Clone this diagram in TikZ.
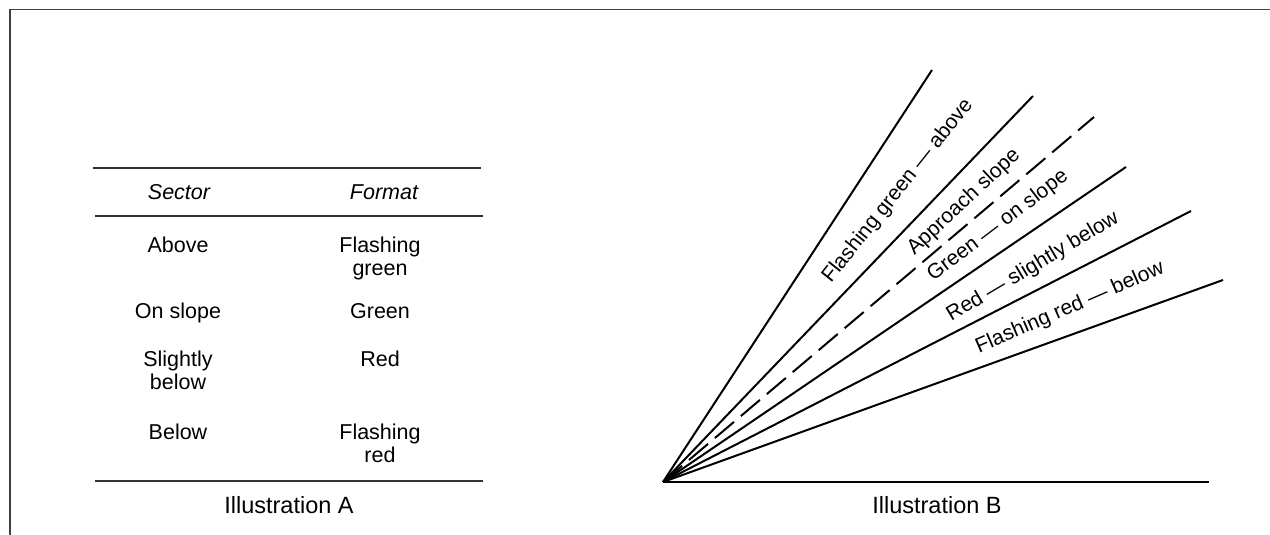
\documentclass[tikz,border=0pt]{standalone}
\usepackage{fontspec}
\setmainfont{Liberation Sans}
\begin{document}
\begin{tikzpicture}[x=1pt,y=-1pt,
  txt/.style={font=\fontsize{21.5}{23}\selectfont, inner sep=0pt, text=black},
  cell/.style={txt, anchor=base},
  capt/.style={font=\fontsize{23.5}{25}\selectfont, inner sep=0pt, text=black, anchor=base},
  ray/.style={line width=2pt, black},
  rulel/.style={line width=1.5pt, black!80},
  lbl/.style={font=\fontsize{21}{22}\selectfont, inner sep=0pt, text=black, anchor=center}]
\useasboundingbox (0,0) rectangle (1270,535);
% frame
\draw[line width=1.5pt, black!75] (10,536) -- (10,9.5) -- (1272,9.5);

% ---------- Illustration A ----------
\coordinate (t1l) at (93,168);  \coordinate (t1r) at (481,168);
\coordinate (t2l) at (95,216);  \coordinate (t2r) at (483,216);
\coordinate (t3l) at (95,481);  \coordinate (t3r) at (483,481);
\draw[rulel] (t1l) -- (t1r);
\draw[rulel] (t2l) -- (t2r);
\draw[rulel] (t3l) -- (t3r);

\node[cell] (hs) at (179,199) {\itshape Sector};
\node[cell] (hf) at (384,199) {\itshape Format};
\node[cell] (s1) at (178,252) {Above};
\node[cell] (f1) at (380,252) {\begin{tabular}[t]{@{}c@{}}Flashing\\green\end{tabular}};
\node[cell] (s2) at (178,318) {On slope};
\node[cell] (f2) at (380,318) {Green};
\node[cell] (s3) at (178,366) {\begin{tabular}[t]{@{}c@{}}Slightly\\below\end{tabular}};
\node[cell] (f3) at (380,366) {Red};
\node[cell] (s4) at (178,439) {Below};
\node[cell] (f4) at (380,439) {\begin{tabular}[t]{@{}c@{}}Flashing\\red\end{tabular}};
\node[capt] (capA) at (289,513) {Illustration A};

% ---------- Illustration B ----------
\coordinate (O) at (663,482);
\coordinate (e1) at (932,70);
\coordinate (e2) at (1033,96);
\coordinate (e3) at (1094,117);
\coordinate (e4) at (1126,167);
\coordinate (e5) at (1191,211);
\coordinate (e6) at (1223,280);
\coordinate (e7) at (1209,482);
\draw[ray] (O) -- (e1);
\draw[ray] (O) -- (e2);
\draw[ray, dash pattern=on 25pt off 9pt] (O) -- (e3);
\draw[ray] (O) -- (e4);
\draw[ray] (O) -- (e5);
\draw[ray] (O) -- (e6);
\draw[line width=2.6pt, black] (O) -- (e7);

\node[lbl, rotate=51.5] (l1) at (898,191) {Flashing green — above};
\node[lbl, rotate=43.2] (l2) at (964,202) {Approach slope};
\node[lbl, rotate=37.2] (l3) at (998,226) {Green — on slope};
\node[lbl, rotate=30.7] (l4) at (1033,267) {Red — slightly below};
\node[lbl, rotate=23.5] (l5) at (1070,308) {Flashing red — below};
\node[capt] (capB) at (937,513) {Illustration B};
\end{tikzpicture}
\end{document}
